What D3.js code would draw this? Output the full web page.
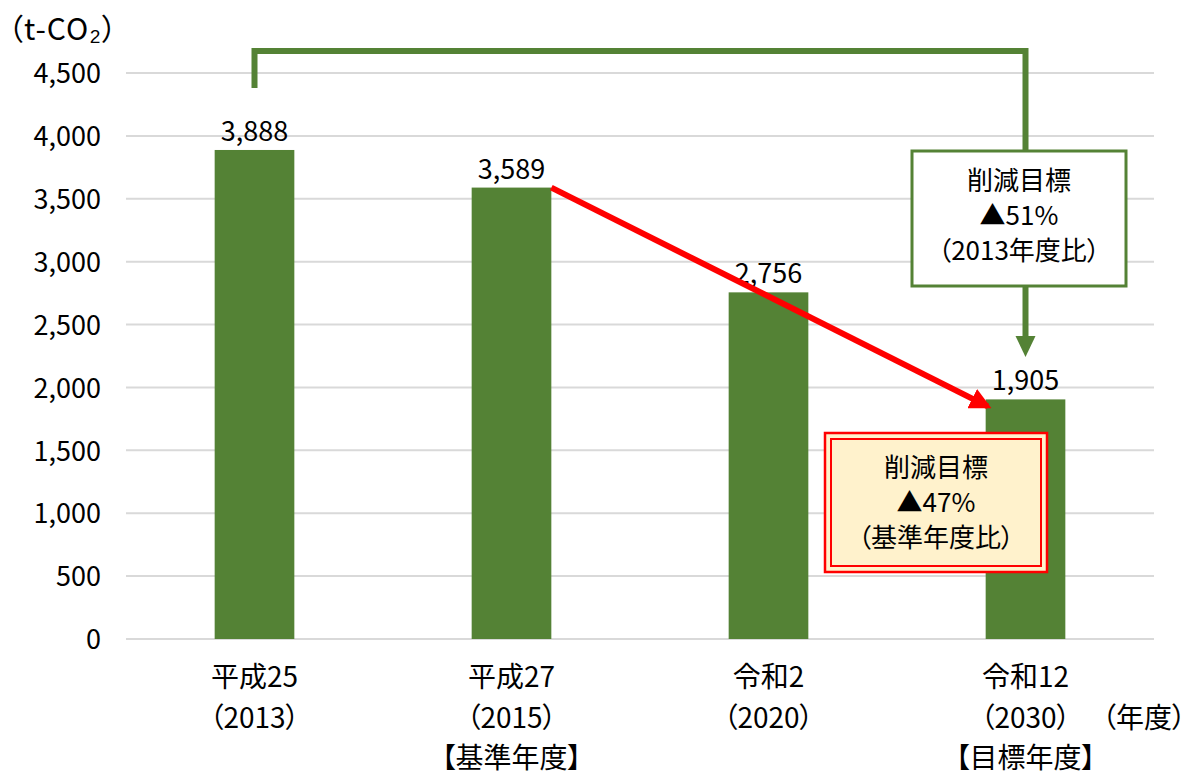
<!DOCTYPE html>
<html lang="ja">

<head>
    <meta charset="utf-8">
    <script src="https://d3js.org/d3.v7.min.js"></script>
    <style>
        body { margin: 0; background: #fff; }
        svg text {
            font-family: "Noto Sans CJK JP", sans-serif;
            font-feature-settings: "palt";
            fill: #000;
        }
    </style>
</head>

<body>
    <svg id="chart" width="1193" height="776"></svg>

    <script>
        // data
        const years = ["2013", "2015", "2020", "2030"];
        const eraLabels = ["平成25", "平成27", "令和2", "令和12"];
        const yearLabels = ["（2013）", "（2015）", "（2020）", "（2030）"];
        const noteLabels = ["", "【基準年度】", "", "【目標年度】"];
        const emissions = [3888, 3589, 2756, 1905];
        const yTicks = [0, 500, 1000, 1500, 2000, 2500, 3000, 3500, 4000, 4500];

        const green = "#548235";
        const red = "#ff0000";

        const svg = d3.select("#chart");

        const x = d3.scaleBand()
            .domain(years)
            .range([126, 1154])
            .paddingInner(0.69)
            .paddingOuter(0.345);

        const y = d3.scaleLinear()
            .domain([0, 4500])
            .range([639, 73]);

        // gridlines
        svg.append("g")
            .selectAll("line")
            .data(yTicks)
            .join("line")
            .attr("x1", 126)
            .attr("x2", 1154)
            .attr("y1", d => y(d))
            .attr("y2", d => y(d))
            .attr("stroke", "#d9d9d9")
            .attr("stroke-width", 2);

        // y axis labels
        const yAxis = svg.append("g")
            .attr("transform", "translate(101,0)")
            .call(d3.axisLeft(y).tickValues(yTicks).tickFormat(d3.format(",")).tickSize(0).tickPadding(0));
        yAxis.select(".domain").remove();
        yAxis.selectAll("text")
            .attr("font-size", 27)
            .attr("font-family", null)
            .attr("fill", "#000")
            .attr("dy", "0.36em");

        svg.append("text")
            .attr("x", 8)
            .attr("y", 40)
            .attr("font-size", 30)
            .attr("letter-spacing", 1)
            .text("（t-CO₂）");

        // bars
        svg.append("g")
            .selectAll("rect")
            .data(emissions)
            .join("rect")
            .attr("x", (d, i) => x(years[i]))
            .attr("y", d => y(d))
            .attr("width", x.bandwidth())
            .attr("height", d => y(0) - y(d))
            .attr("fill", green);

        // value labels
        svg.append("g")
            .selectAll("text")
            .data(emissions)
            .join("text")
            .attr("x", (d, i) => x(years[i]) + x.bandwidth() / 2)
            .attr("y", d => y(d) - 9)
            .attr("text-anchor", "middle")
            .attr("font-size", 27)
            .text(d => d3.format(",")(d));

        // category labels (three lines)
        const cats = svg.append("g")
            .selectAll("g")
            .data(years)
            .join("g")
            .attr("transform", d => "translate(" + (x(d) + x.bandwidth() / 2) + ",0)");
        cats.append("text").attr("y", 687).attr("text-anchor", "middle").attr("font-size", 28)
            .text((d, i) => eraLabels[i]);
        cats.append("text").attr("y", 727.5).attr("text-anchor", "middle").attr("font-size", 28)
            .text((d, i) => yearLabels[i]);
        cats.append("text").attr("y", 768).attr("text-anchor", "middle").attr("font-size", 28)
            .text((d, i) => noteLabels[i]);

        svg.append("text")
            .attr("x", 1102)
            .attr("y", 727.5)
            .attr("font-size", 28)
            .text("（年度）");

        // arrowheads
        const defs = svg.append("defs");
        defs.append("marker")
            .attr("id", "redHead")
            .attr("viewBox", "0 0 10 10")
            .attr("refX", 8).attr("refY", 5)
            .attr("markerWidth", 3.6).attr("markerHeight", 3.6)
            .attr("markerUnits", "strokeWidth")
            .attr("orient", "auto")
            .append("path").attr("d", "M0,0 L10,5 L0,10 Z").attr("fill", red);

        // red arrow: base year -> target year
        const cx2030 = x("2030") + x.bandwidth() / 2;
        svg.append("line")
            .attr("x1", x("2015") + x.bandwidth())
            .attr("y1", y(emissions[1]))
            .attr("x2", x("2030") + 2)
            .attr("y2", y(emissions[3]) + 7)
            .attr("stroke", red)
            .attr("stroke-width", 6)
            .attr("marker-end", "url(#redHead)");

        // green connector from 2013 to 2030
        const cx2013 = x("2013") + x.bandwidth() / 2;
        svg.append("path")
            .attr("d", "M" + cx2013 + ",88 V51 H" + cx2030 + " V152")
            .attr("fill", "none")
            .attr("stroke", green)
            .attr("stroke-width", 6);
        svg.append("line")
            .attr("x1", cx2030).attr("x2", cx2030)
            .attr("y1", 286).attr("y2", 338)
            .attr("stroke", green)
            .attr("stroke-width", 6);
        svg.append("path")
            .attr("d", "M" + (cx2030 - 10) + ",336 L" + (cx2030 + 10) + ",336 L" + cx2030 + ",357 Z")
            .attr("fill", green);

        // green callout
        svg.append("rect")
            .attr("x", 912).attr("y", 151)
            .attr("width", 214).attr("height", 135)
            .attr("fill", "#fff")
            .attr("stroke", green)
            .attr("stroke-width", 3);
        const gText = ["削減目標", "▲51%", "（2013年度比）"];
        svg.append("g").selectAll("text")
            .data(gText)
            .join("text")
            .attr("x", 1019)
            .attr("y", (d, i) => 190 + i * 35)
            .attr("text-anchor", "middle")
            .attr("font-size", 26)
            .text(d => d);

        // red callout
        svg.append("rect")
            .attr("x", 825).attr("y", 433)
            .attr("width", 222).attr("height", 139)
            .attr("fill", "#fff2cc")
            .attr("stroke", red)
            .attr("stroke-width", 2.5);
        svg.append("rect")
            .attr("x", 831).attr("y", 439)
            .attr("width", 210).attr("height", 127)
            .attr("fill", "none")
            .attr("stroke", red)
            .attr("stroke-width", 2);
        const rText = ["削減目標", "▲47%", "（基準年度比）"];
        svg.append("g").selectAll("text")
            .data(rText)
            .join("text")
            .attr("x", 936)
            .attr("y", (d, i) => 477 + i * 35)
            .attr("text-anchor", "middle")
            .attr("font-size", 26)
            .text(d => d);
    </script>
</body>

</html>
